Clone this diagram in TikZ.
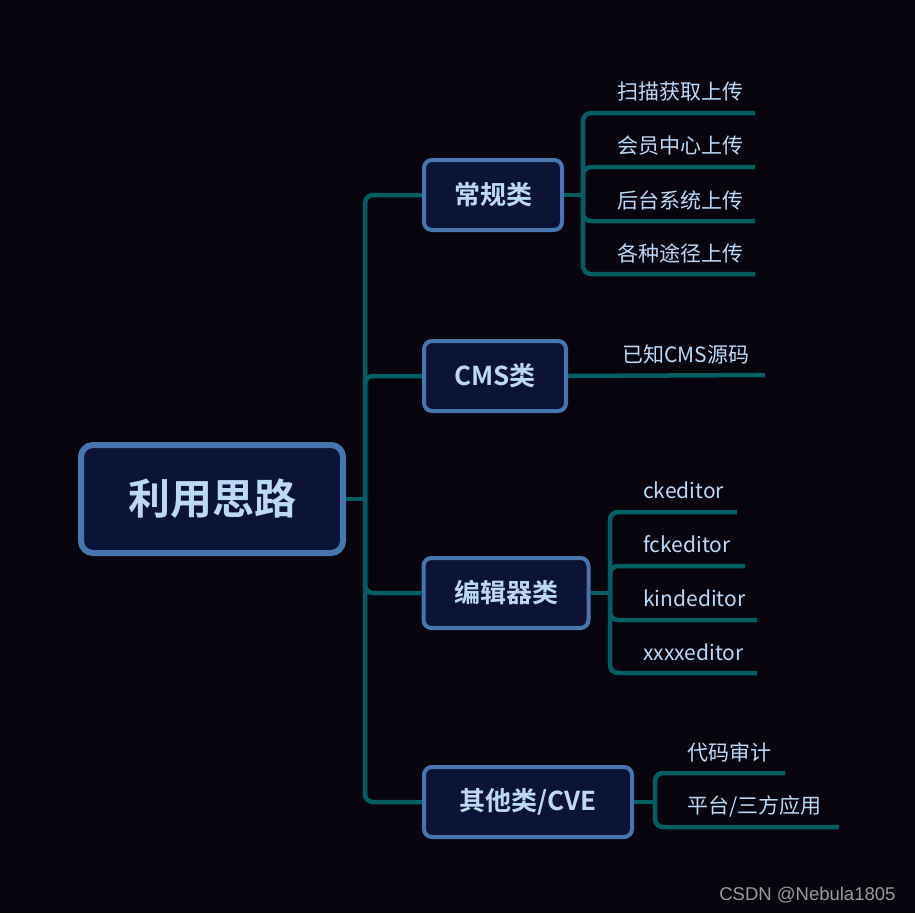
\documentclass[tikz,border=0pt]{standalone}
\usepackage{fontspec}
\setmainfont{Noto Sans CJK SC}[BoldFont={Noto Sans CJK SC Bold}]
\newfontfamily\markfont{Liberation Sans}
\usetikzlibrary{positioning}
\definecolor{bgdark}{HTML}{08040E}
\definecolor{boxfill}{HTML}{0B1436}
\definecolor{boxline}{HTML}{4775AE}
\definecolor{txtblue}{HTML}{BBD9F7}
\definecolor{teal}{HTML}{005F61}
\definecolor{markgray}{HTML}{9A9A9A}
\tikzset{
	rootbox/.style={draw=boxline, fill=boxfill, line width=6pt, rounded corners=12pt, text=txtblue, font=\fontsize{42}{46}\selectfont\bfseries, minimum width=262pt, minimum height=108pt},
	catbox/.style={draw=boxline, fill=boxfill, line width=4pt, rounded corners=8pt, text=txtblue, font=\fontsize{26}{30}\selectfont\bfseries, minimum height=70pt, inner xsep=0pt},
	leaf/.style={anchor=west, inner sep=0pt, text=txtblue, font=\fontsize{21}{25}\selectfont},
	branch/.style={draw=teal, line width=4.5pt, rounded corners=8pt}
}
\begin{document}
\begin{tikzpicture}[x=1pt, y=-1pt]

	\fill[bgdark] (0,0) rectangle (915,913);
	\useasboundingbox (0,0) rectangle (915,913);

	\node[rootbox](root) at (212,499) {利用思路};

	\node[catbox, minimum width=138pt](normal) at (493,195) {常规类};

	\node[catbox, minimum width=142pt](cms) at (495,376) {CMS类};

	\node[catbox, minimum width=165pt](editor) at (506,593) {编辑器类};

	\node[catbox, minimum width=208pt](other) at (528,802) {其他类/CVE};

	% Leaves

	\node[leaf](scan) at (617,92) {扫描获取上传};
	\node[leaf](member) at (617,146) {会员中心上传};
	\node[leaf](backend) at (617,200) {后台系统上传};
	\node[leaf](anyway) at (617,253) {各种途径上传};

	\node[leaf](cmssrc) at (622,355) {已知CMS源码};

	\node[leaf](ck) at (643,490) {ckeditor};
	\node[leaf](fck) at (643,544) {fckeditor};
	\node[leaf](kind) at (643,598) {kindeditor};
	\node[leaf](xxxx) at (643,652) {xxxxeditor};

	\node[leaf](audit) at (687,752) {代码审计};
	\node[leaf](thirdparty) at (687,806) {平台/三方应用};

	\node[anchor=east, text=markgray, font=\markfont\fontsize{18.5}{22}\selectfont](mark) at (899,895) {CSDN @Nebula1805};

	% Joints and line ends

	\coordinate (trunk) at (365,499);
	\coordinate (jnormal) at (583,195);
	\coordinate (jeditor) at (610,593);
	\coordinate (jother) at (655,802);

	\coordinate (escan) at (755,113);
	\coordinate (emember) at (755,167);
	\coordinate (ebackend) at (755,221);
	\coordinate (eanyway) at (755,274);
	\coordinate (ecms) at (765,375);
	\coordinate (eck) at (737,512);
	\coordinate (efck) at (745,566);
	\coordinate (ekind) at (757,620);
	\coordinate (exxxx) at (757,673);
	\coordinate (eaudit) at (785,773);
	\coordinate (ethird) at (839,827);

	% Lines

	\draw[branch] (root.east) -- (trunk);
	\draw[branch] (trunk) |- (normal.west);
	\draw[branch] (trunk) |- (cms.west);
	\draw[branch] (trunk) |- (editor.west);
	\draw[branch] (trunk) |- (other.west);

	\draw[branch] (normal.east) -- (jnormal);
	\draw[branch] (jnormal) |- (escan);
	\draw[branch] (jnormal) |- (emember);
	\draw[branch] (jnormal) |- (ebackend);
	\draw[branch] (jnormal) |- (eanyway);

	\draw[branch] (cms.east) -- (ecms);

	\draw[branch] (editor.east) -- (jeditor);
	\draw[branch] (jeditor) |- (eck);
	\draw[branch] (jeditor) |- (efck);
	\draw[branch] (jeditor) |- (ekind);
	\draw[branch] (jeditor) |- (exxxx);

	\draw[branch] (other.east) -- (jother);
	\draw[branch] (jother) |- (eaudit);
	\draw[branch] (jother) |- (ethird);

\end{tikzpicture}
\end{document}
